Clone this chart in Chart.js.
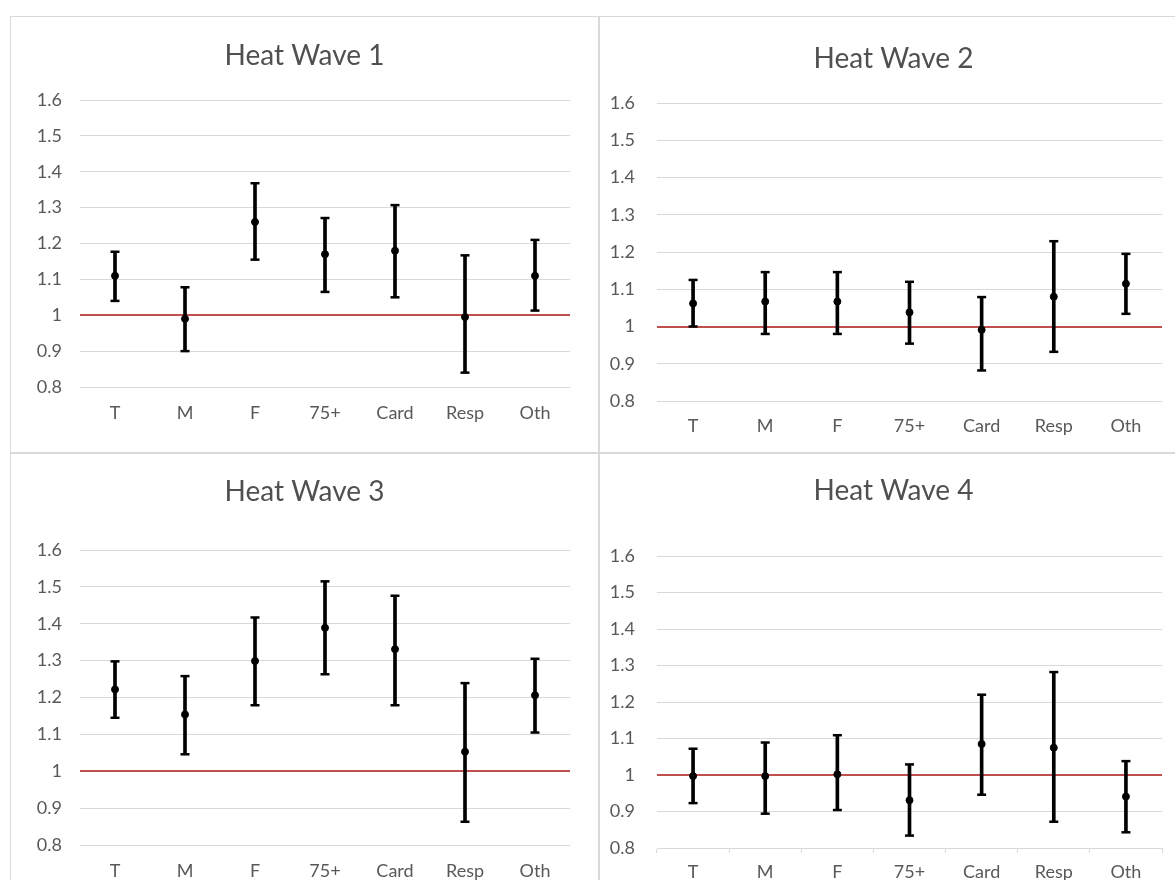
<!DOCTYPE html>
<html>
<head>
<meta charset="utf-8">
<script src="https://cdn.jsdelivr.net/npm/chart.js@4.4.0/dist/chart.umd.min.js"></script>
<style>
  html, body { margin:0; padding:0; background:#fff; overflow:hidden; width:1175px; height:880px; }
  .panel { position:absolute; box-sizing:border-box; border:1px solid #d9d9d9; background:#fff; overflow:hidden; }
  .panel canvas { display:block; }
</style>
</head>
<body>
<div class="panel" style="left:10px;top:16px;width:589px;height:437px"><canvas id="hw1" width="587" height="435"></canvas></div>
<div class="panel" style="left:599px;top:16px;width:600px;height:437px"><canvas id="hw2" width="587" height="435"></canvas></div>
<div class="panel" style="left:10px;top:453px;width:589px;height:460px"><canvas id="hw3" width="587" height="435"></canvas></div>
<div class="panel" style="left:599px;top:453px;width:600px;height:460px"><canvas id="hw4" width="587" height="435"></canvas></div>
<script>
const categories = ['T', 'M', 'F', '75+', 'Card', 'Resp', 'Oth'];
const yMin = 0.8, yMax = 1.6, yStep = 0.1;
const refValue = 1;

// point estimate and interval per heat wave
const hw1Mean = [1.11, 0.99, 1.26, 1.17, 1.18, 0.995, 1.11];
const hw1Low  = [1.04, 0.90, 1.155, 1.065, 1.05, 0.84, 1.013];
const hw1High = [1.177, 1.078, 1.368, 1.271, 1.307, 1.167, 1.21];

const hw2Mean = [1.062, 1.067, 1.067, 1.038, 0.991, 1.08, 1.115];
const hw2Low  = [1.0, 0.98, 0.98, 0.954, 0.882, 0.932, 1.034];
const hw2High = [1.125, 1.146, 1.146, 1.12, 1.079, 1.229, 1.195];

const hw3Mean = [1.222, 1.154, 1.299, 1.389, 1.331, 1.053, 1.206];
const hw3Low  = [1.145, 1.046, 1.179, 1.263, 1.179, 0.863, 1.105];
const hw3High = [1.298, 1.258, 1.417, 1.515, 1.476, 1.239, 1.305];

const hw4Mean = [0.997, 0.997, 1.002, 0.931, 1.085, 1.075, 0.941];
const hw4Low  = [0.923, 0.894, 0.904, 0.834, 0.946, 0.872, 0.843];
const hw4High = [1.072, 1.089, 1.109, 1.029, 1.22, 1.282, 1.038];

const textGrey = '#595959';
const gridGrey = '#d9d9d9';
const refRed = '#c0504d';

function errorChart(id, title, mean, low, high, box) {
  const ranges = low.map((l, i) => [l, high[i]]);
  const capStyle = { type: 'line', showLine: false, pointStyle: 'line', pointRadius: 4.5,
    pointBorderWidth: 2.5, pointBorderColor: '#000', borderColor: '#000', order: 1 };
  return new Chart(document.getElementById(id), {
    type: 'bar',
    data: {
      labels: categories,
      datasets: [
        { type: 'line', data: mean, showLine: false, pointRadius: 3.5, pointBackgroundColor: '#000',
          pointBorderColor: '#000', borderColor: '#000', order: 0 },
        Object.assign({ data: high }, capStyle),
        Object.assign({ data: low }, capStyle),
        { type: 'bar', data: ranges, backgroundColor: '#000', barThickness: 3, order: 2 }
      ]
    },
    options: {
      responsive: false, animation: false, devicePixelRatio: 1,
      layout: { padding: 0 },
      plugins: {
        legend: { display: false },
        tooltip: { enabled: false },
        title: {
          display: true, text: title, color: '#505050',
          font: { family: 'Lato', size: 28, weight: 'normal', lineHeight: 1 },
          padding: { top: box.titleTop, bottom: box.titleBottom }
        }
      },
      scales: {
        x: {
          grid: box.xTicks
            ? { display: true, drawOnChartArea: false, drawTicks: true, tickLength: 5, color: gridGrey, offset: true }
            : { display: false, drawTicks: false },
          border: { display: !!box.xTicks, color: gridGrey },
          ticks: { color: textGrey, font: { family: 'Lato', size: 18 }, padding: box.xPad },
          afterFit: s => { s.height = box.xHeight; }
        },
        y: {
          min: yMin, max: yMax,
          ticks: {
            stepSize: yStep, color: textGrey, font: { family: 'Lato', size: 18 }, padding: box.yPad,
            callback: v => String(+v.toFixed(1))
          },
          grid: {
            drawTicks: false,
            color: c => (c.tick && Math.abs(c.tick.value - refValue) < 1e-6) ? refRed : gridGrey,
            lineWidth: c => (c.tick && Math.abs(c.tick.value - refValue) < 1e-6) ? 2 : 1
          },
          border: { display: false },
          afterFit: s => { s.width = box.yWidth; }
        },
        // empty right margin so the title stays centred on the whole panel
        yRight: {
          position: 'right', min: yMin, max: yMax,
          ticks: { display: false }, grid: { display: false, drawTicks: false }, border: { display: false },
          afterFit: s => { s.width = box.right; }
        }
      }
    }
  });
}

errorChart('hw1', 'Heat Wave 1', hw1Mean, hw1Low, hw1High,
  { right: 28, titleTop: 25, titleBottom: 30, yWidth: 69, yPad: 18, xHeight: 65, xPad: 15 });
errorChart('hw2', 'Heat Wave 2', hw2Mean, hw2Low, hw2High,
  { right: 25, titleTop: 28, titleBottom: 30, yWidth: 57, yPad: 22, xHeight: 51, xPad: 14 });
errorChart('hw3', 'Heat Wave 3', hw3Mean, hw3Low, hw3High,
  { right: 28, titleTop: 24, titleBottom: 44, yWidth: 69, yPad: 18, xHeight: 44, xPad: 15 });
errorChart('hw4', 'Heat Wave 4', hw4Mean, hw4Low, hw4High,
  { right: 25, titleTop: 23, titleBottom: 51, yWidth: 57, yPad: 22, xHeight: 41, xPad: 8, xTicks: true });
</script>
</body>
</html>
